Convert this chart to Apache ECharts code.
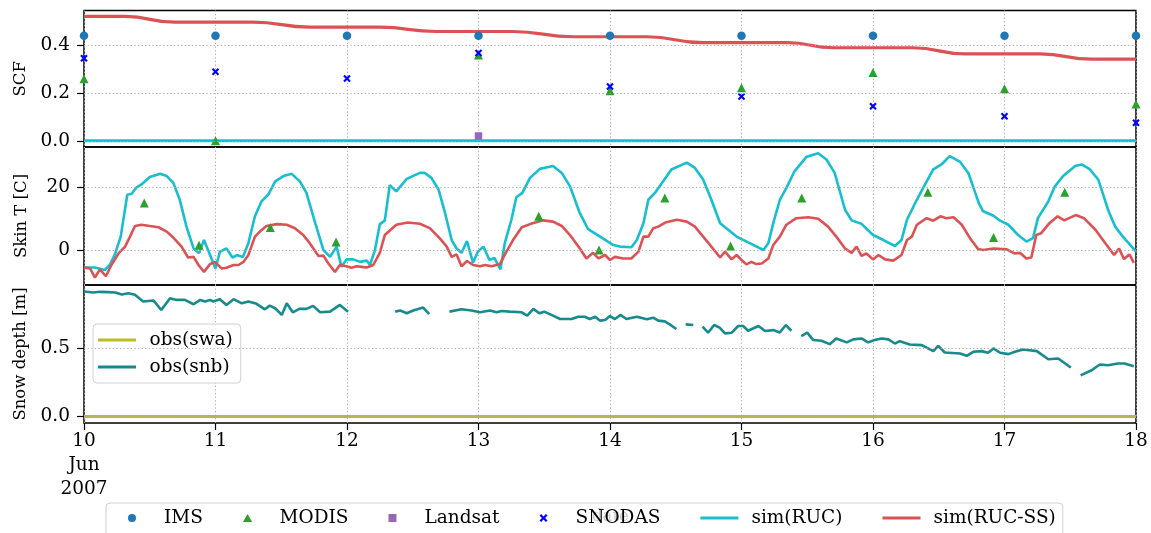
<!DOCTYPE html>
<html><head><meta charset="utf-8">
<script src="https://cdn.jsdelivr.net/npm/echarts@6/dist/echarts.min.js"></script>
<style>html,body{margin:0;padding:0;background:#fff}#c{width:1151px;height:533px}</style>
</head><body><div id="c"></div><script>
// ---------- data (hours since 2007-06-10 00:00) ----------
const xTickLabels = ['10\nJun\n2007','11','12','13','14','15','16','17','18'];
const scfTicks = [0, 0.2, 0.4];
const skinTicks = [0, 20];
const depthTicks = [0, 0.5];

const obsHours = [0, 24, 48, 72, 96, 120, 144, 168, 192];
const imsScf = [0.44, 0.44, 0.44, 0.44, 0.44, 0.44, 0.44, 0.44, 0.44];
const modisScf = [0.26, 0.0, null, 0.36, 0.21, 0.222, 0.286, 0.218, 0.154];
const snodasScf = [0.346, 0.289, 0.261, 0.368, 0.228, 0.186, 0.145, 0.103, 0.076];
const landsatHours = [72];
const landsatScf = [0.02];

const rucScfHours = [0, 192];
const rucScf = [0, 0];
const ssScfHours = [0, 7.5, 16.6, 30.8, 41.3, 54.0, 64.3, 78.2, 89.3, 102.7, 113.0, 128.4, 136.8, 151.2, 160.9, 174.5, 184.0, 192];
const ssScf = [0.521, 0.521, 0.497, 0.497, 0.476, 0.476, 0.458, 0.458, 0.436, 0.436, 0.411, 0.411, 0.390, 0.390, 0.364, 0.364, 0.342, 0.342];

const modisSkinHours = [11, 21, 34, 46, 83, 94, 106, 118, 131, 154, 166, 179];
const modisSkinT = [15.1, 1.5, 7.2, 2.6, 10.8, 0.0, 16.7, 1.3, 16.7, 18.5, 4.0, 18.5];

const rucSkinHours = [0,2,3.8,4.7,5.7,6.7,7.9,8.7,9.6,10.5,12,13.9,15.1,16.3,17.5,18.7,20,21,21.9,23,24,24.8,26,27.1,27.9,29,30,31.2,32.4,33.6,34.9,36.4,37.9,39.4,40.6,42.2,43.7,44.9,46.1,47,47.9,49.1,50.4,51.6,52.2,53.1,54,54.9,55.8,57,58.9,61.3,62.2,63.4,64.7,65.9,67.1,68,68.9,69.9,71,71.9,72.9,74,74.9,76,76.8,78,78.9,80,81.4,83.2,85.6,87.2,88.7,90.5,92,94.2,96.6,97.8,99.9,100.9,102.1,103,104.2,105.7,107.2,110,111.5,113,114.5,116.1,119.1,121.5,124,124.9,125.8,127,128.2,129.7,131.9,134,135.5,137,138.9,140.1,141.9,144,145.9,148,149.2,150.2,152,153.5,155,156.5,158,159.9,161.4,163.3,164.1,166,167.2,168.7,170.5,172,173.2,174.1,176,177.2,178.7,180.9,182.1,183.6,185.1,187,188.2,189.6,192];
const rucSkinT = [-5.6,-5.6,-6.4,-4.8,-1.1,4.3,17.7,18,20.1,21,23.4,24.4,23.7,21.5,16,7.5,0.5,-1,3.2,-1.6,-5.9,-0.5,0.5,-2.4,-1.6,-2.2,2.2,10.8,15.6,17.7,22,23.7,24.4,22,18.3,8.6,0,-2.2,1.1,-5.4,-3,-3,-3.8,-3.4,-4.8,0,8.3,9.4,20.8,18.8,22.8,24.7,24.7,23.1,19.4,11.8,3.2,0.5,-0.9,2.9,-4.1,-0.5,1.1,-3.2,-2.5,-6.2,2.2,9.7,16.9,18.3,23.1,26,26.9,24.7,20.4,11.8,6.7,4.3,1.6,1.1,0.9,3.2,8.6,16.1,18.3,22,25.8,28,26.3,22.6,16.1,8.6,4.3,2.2,0,2.2,8.6,16.1,19.9,25.3,29.9,31,29,24.7,12.9,9.5,8.4,4.8,3.2,1.3,3.2,9.7,16.1,21,25.8,27.4,30.1,28.2,24.7,15.1,12.4,11,9.4,8.1,4.8,2.7,3.8,10.2,15.6,20.4,23.7,26.9,27.4,25.8,22.6,12.4,7.5,4.3,-0.5];

const ssSkinHours = [0,1.1,2,2.9,4,5,6.3,7.5,8.4,9.3,10.5,12,13.6,15.1,16.3,17.8,19,20,20.9,21.9,23,23.9,25.1,26,27.3,28.2,29.1,30,31.2,32.1,33.3,35.2,37,38.5,40,41.2,42.8,43.7,44.6,45.8,46.7,47.9,48.8,49.8,50.7,51.6,52.8,54,54.9,57,59.1,61.3,63.1,64.9,66.2,67.1,68,68.9,69.9,71,72.3,73.2,74.4,75.9,77.1,78.3,79.9,81.4,83.8,85.6,87.2,88.7,90.5,91.7,92.9,93.9,95.1,96,96.9,98.4,99.9,101.2,102.1,103,103.9,104.8,106.1,108.2,110,111.5,113,114.5,116.1,117,118.2,119.1,120,120.9,121.8,122.7,123.7,124.9,125.8,127,128.2,130,132.2,134,135.8,137.3,138.9,140.1,141,141.9,142.8,144,145,146.2,147.7,149.2,150.2,151.1,152,153.8,155,156.3,157.4,158.7,160.2,161.7,163.2,164.1,166,168.4,169.8,170.8,172,172.9,173.8,174.7,176.2,177.7,178.9,181,182.5,184.6,186.4,188,188.9,189.8,190.8,191.6];
const ssSkinT = [-5.6,-5.9,-8.8,-6.2,-8.4,-4.8,-1.1,1.1,4.3,7.7,8.1,7.7,7.3,5.9,4,1.1,-2.4,-2.2,-4.8,-7,-4.5,-3.8,-5.9,-5.7,-4.8,-4.8,-3.8,-1.6,4.3,5.9,7.7,8.3,8.1,7,4.8,2.2,-1.9,-1.8,-4.3,-7,-4.8,-5.2,-5.7,-5.2,-5.4,-5.6,-4.8,-0.8,4.8,8.1,8.8,8.4,7,3.8,1.1,-2.2,-1.4,-5.2,-3.5,-4.8,-5.2,-4.8,-5.2,-4.5,-0.5,3.2,7.3,8.3,9.5,9.1,7.7,4.8,0.5,-2.7,-0.9,-2.7,-1.6,-3.2,-2.2,-2.7,-2.7,-0.5,4.3,4.3,7,7.5,8.8,9.7,9.1,7.5,4.3,1.1,-2.4,-0.5,-3,-1.6,-3.2,-4.6,-3.8,-4.5,-4.3,-2.7,1.6,4.3,8.1,10.2,10.5,10,7.5,4.3,0.5,-0.9,1.1,-1.9,-1.1,-3,-1.6,-3,-3.4,-1.6,3.2,4.3,8.1,10.2,9.4,10.8,10.2,10.5,8.1,3.8,0.3,0,0.5,0.2,-1.1,-0.9,-2.7,-2.4,4.8,5.4,8.6,10.8,9.5,11.2,10.2,6.5,2.2,-1.6,0.5,-2.9,-1.4,-4.1];

const swaHours = [0, 192];
const swaDepth = [0, 0];
const snbHours = [0,1.7,2.9,4.4,5.7,6.9,8.1,9.3,10.8,12.7,14.1,15.7,16.9,18.4,20,21.2,22.1,23,23.6,24.8,26,27.3,28.8,30,31.5,33,33.9,34.9,36.1,37,38.1,39.3,40.6,41.8,43.1,44.9,46.7,48.2,52,56.8,57.7,58.9,60.1,61.9,63,65,66.7,68.9,70.7,72.3,74.1,75.3,76.2,77.7,79.9,80.9,82,83.1,84,85.3,86.9,89,90.2,91.4,92.3,93.3,94.2,95.1,96,96.9,97.9,99,100.9,102.7,103.9,104.8,106,106.9,108.1,109,109.8,111.2,112,112.9,113.9,115,116,117,118.2,119.4,120.3,121.2,123.1,124.3,125.8,127,128.1,129.1,130,130.9,132,133.1,134.6,136.1,137.3,139.2,140.4,141.9,143.1,144.3,145.6,146.8,148,148.9,150.7,152.9,155,155.9,157.1,159.9,161.1,162.3,163.8,165,166,167.2,168.7,169.9,171.4,173.9,176,177.8,180.1,181,181.9,183.9,185.4,186.9,188.7,189.9,191.6];
const snbDepth = [0.914,0.907,0.912,0.91,0.907,0.892,0.902,0.89,0.841,0.848,0.779,0.865,0.853,0.853,0.821,0.853,0.841,0.853,0.841,0.858,0.816,0.858,0.828,0.841,0.824,0.784,0.811,0.792,0.743,0.828,0.762,0.787,0.787,0.809,0.762,0.767,0.816,0.767,null,0.767,0.775,0.755,0.775,0.797,0.748,null,0.767,0.784,0.775,0.762,0.775,0.762,0.772,0.767,0.762,0.738,0.787,0.755,0.767,0.743,0.713,0.713,0.73,0.73,0.713,0.73,0.701,0.706,0.735,0.713,0.743,0.713,0.73,0.711,0.723,0.701,0.696,0.674,0.64,null,0.674,0.669,null,0.657,0.613,0.669,0.65,0.608,0.613,0.662,0.662,0.627,0.662,0.625,0.632,0.615,0.669,0.627,null,0.588,0.613,0.559,0.554,0.529,0.571,0.542,0.564,0.571,0.542,0.559,0.571,0.564,0.534,0.551,0.527,0.522,0.478,0.517,0.468,0.461,0.444,0.473,0.478,0.466,0.498,0.466,0.456,0.473,0.49,0.478,0.419,0.424,0.358,null,0.301,0.338,0.38,0.375,0.387,0.387,0.368];

// ---------- chart ----------
const FONT = 'DejaVu Serif';
const zip = (xs, ys) => xs.map((x, i) => [x, ys[i]]);
const gridLine = {color: '#a8a8a8', type: [1.2, 2.4], width: 1};
const C = {ims: '#1f77b4', modis: '#2ca02c', landsat: '#9467bd', snodas: '#0000ff',
  ruc: '#17becf', ss: '#dc5254', swa: '#bcbd22', snb: '#168a8c'};
const xMark = 'path://M0,2 L2,0 L5,3 L8,0 L10,2 L7,5 L10,8 L8,10 L5,7 L2,10 L0,8 L3,5 Z';
const ICON = {
  tri: 'path://M0,10 L5.8,0 L11.6,10 Z',
  sq: 'path://M0,0 L10,0 L10,10 L0,10 Z',
  line: 'path://M0,0 L0,0 M0,2.5 L38,2.5 L38,5.5 L0,5.5 Z M38,8 L38,8'
};

const grids = [
  {left: 84, top: 10.5, width: 1052, height: 136.5},
  {left: 84, top: 147, width: 1052, height: 138},
  {left: 84, top: 285, width: 1052, height: 138}
].map(g => Object.assign(g, {show: true, borderColor: '#000', borderWidth: 1.5, backgroundColor: 'transparent'}));

const xAxes = [0, 1, 2].map(i => ({
  type: 'value', gridIndex: i, min: 0, max: 192, interval: 24,
  axisLine: {show: false, onZero: false},
  axisTick: {show: i === 2, length: 7, lineStyle: {color: '#000', width: 1.2}},
  axisLabel: {show: i === 2, showMinLabel: true, showMaxLabel: true, margin: 6,
    formatter: v => xTickLabels[Math.round(v / 24)],
    fontFamily: FONT, fontSize: 18.5, color: '#000', lineHeight: 24},
  splitLine: {show: true, lineStyle: gridLine}
}));

function yAxis(i, min, max, ticks, name, fmt) {
  return {
    type: 'value', gridIndex: i, min: min, max: max,
    name: name, nameLocation: 'middle', nameGap: 54, nameRotate: 90,
    nameTextStyle: {fontFamily: FONT, fontSize: 16.5, color: '#000'},
    axisLine: {show: false, onZero: false},
    axisTick: {show: true, length: 7, customValues: ticks, lineStyle: {color: '#000', width: 1.2}},
    axisLabel: {customValues: ticks, margin: 14, formatter: fmt,
      fontFamily: FONT, fontSize: 18.5, color: '#000'},
    splitLine: {show: false}
  };
}
const yAxes = [
  yAxis(0, -0.026, 0.546, scfTicks, 'SCF', v => v.toFixed(1)),
  yAxis(1, -11.2, 33.0, skinTicks, 'Skin T [C]', v => String(Math.round(v))),
  yAxis(2, -0.048, 0.962, depthTicks, 'Snow depth [m]', v => v.toFixed(1))
];

function gridMarks(i, ticks) {
  return {type: 'line', xAxisIndex: i, yAxisIndex: i, data: [], z: 1, silent: true,
    markLine: {silent: true, symbol: 'none', animation: false, label: {show: false},
      lineStyle: gridLine, data: ticks.map(t => ({yAxis: t}))}};
}
function line(name, i, data, color, w, extra) {
  return Object.assign({type: 'line', name: name, xAxisIndex: i, yAxisIndex: i, data: data,
    symbol: 'none', showSymbol: false, z: 2, clip: true,
    lineStyle: {color: color, width: w}, itemStyle: {color: color}}, extra || {});
}
function scatter(name, i, data, color, symbol, size) {
  return {type: 'scatter', name: name, xAxisIndex: i, yAxisIndex: i, data: data,
    symbol: symbol, symbolSize: size, z: 3, clip: true, itemStyle: {color: color, opacity: 1}};
}

const series = [
  gridMarks(0, scfTicks), gridMarks(1, skinTicks), gridMarks(2, depthTicks),
  line('sim(RUC)', 0, zip(rucScfHours, rucScf), C.ruc, 3),
  line('sim(RUC-SS)', 0, zip(ssScfHours, ssScf), C.ss, 3.2, {smooth: 0.5, smoothMonotone: 'x'}),
  scatter('IMS', 0, zip(obsHours, imsScf), C.ims, 'circle', 8.5),
  scatter('MODIS', 0, zip(obsHours, modisScf), C.modis, 'triangle', 9),
  scatter('Landsat', 0, zip(landsatHours, landsatScf), C.landsat, 'rect', 7.5),
  scatter('SNODAS', 0, zip(obsHours, snodasScf), C.snodas, xMark, 7.5),
  line('sim(RUC)', 1, zip(rucSkinHours, rucSkinT), C.ruc, 2.6),
  line('sim(RUC-SS)', 1, zip(ssSkinHours, ssSkinT), C.ss, 2.6),
  scatter('MODIS', 1, zip(modisSkinHours, modisSkinT), C.modis, 'triangle', 9),
  line('obs(swa)', 2, zip(swaHours, swaDepth), C.swa, 3),
  line('obs(snb)', 2, zip(snbHours, snbDepth), C.snb, 2.6, {connectNulls: false})
];

const legendText = {fontFamily: FONT, fontSize: 18.5, color: '#000', lineHeight: 22, padding: [0, 0, 0, 8]};
const legendBox = {backgroundColor: 'rgba(255,255,255,0.8)', borderColor: '#d0d0d0', borderWidth: 1, borderRadius: 4, selectedMode: false};

const chart = echarts.init(document.getElementById('c'), null, {renderer: 'canvas'});
chart.setOption({
  animation: false,
  backgroundColor: '#fff',
  grid: grids, xAxis: xAxes, yAxis: yAxes, series: series,
  legend: [
    Object.assign({data: [
        {name: 'IMS', icon: 'circle'},
        {name: 'MODIS', icon: ICON.tri},
        {name: 'Landsat', icon: ICON.sq},
        {name: 'SNODAS', icon: xMark},
        {name: 'sim(RUC)', icon: ICON.line},
        {name: 'sim(RUC-SS)', icon: ICON.line}],
      left: 106, top: 503, orient: 'horizontal', itemWidth: 38, itemHeight: 8, itemGap: 40,
      padding: [4, 7, 8, 22], textStyle: legendText}, legendBox),
    Object.assign({data: [
        {name: 'obs(swa)', icon: ICON.line},
        {name: 'obs(snb)', icon: ICON.line}],
      left: 93, top: 324, orient: 'vertical', itemWidth: 39, itemHeight: 8, itemGap: 5,
      padding: [5, 8, 5, 5], textStyle: legendText}, legendBox)
  ],
  graphic: [{type: 'text', left: 592, top: 508, z: -1,
    style: {text: 'date', fill: '#000', font: '16.5px "DejaVu Serif"'}}]
});
</script></body></html>
